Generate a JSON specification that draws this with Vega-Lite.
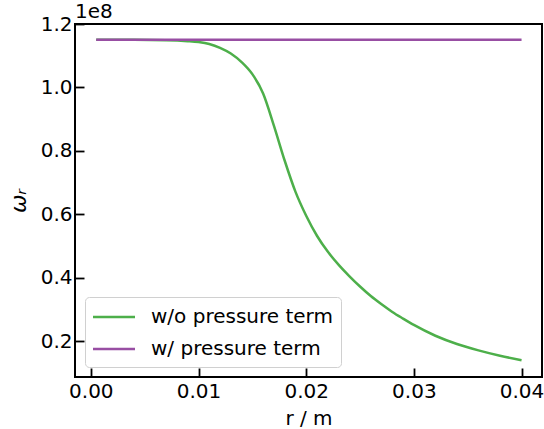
{
  "$schema": "https://vega.github.io/schema/vega-lite/v6.json",
  "width": 467,
  "height": 353,
  "autosize": {"type": "none"},
  "padding": {"left": 75, "top": 24, "right": 2, "bottom": 52},
  "background": "white",
  "config": {
    "font": "DejaVu Sans",
    "view": {"stroke": "black", "strokeWidth": 2},
    "axis": {
      "grid": false,
      "domain": false,
      "tickColor": "black",
      "tickWidth": 1.8,
      "tickSize": -9,
      "labelFontSize": 20,
      "labelColor": "black",
      "titleFontSize": 20,
      "titleColor": "black",
      "titleFontWeight": "normal",
      "labelFont": "DejaVu Sans",
      "titleFont": "DejaVu Sans"
    },
    "legend": {
      "orient": "bottom-left",
      "offset": 10,
      "fillColor": "white",
      "strokeColor": "#d0d0d0",
      "cornerRadius": 4,
      "padding": 8,
      "labelFontSize": 20,
      "labelColor": "black",
      "labelFont": "DejaVu Sans",
      "labelLimit": 0,
      "symbolType": "M-2,0L2,0",
      "symbolSize": 441,
      "symbolStrokeWidth": 2.5,
      "symbolOffset": 9,
      "rowPadding": 10,
      "labelOffset": 25
    }
  },
  "data": {
    "values": [
      {"series": "w/o pressure term", "r": 0.0005, "omega": 115000000},
      {"series": "w/o pressure term", "r": 0.004, "omega": 115000000},
      {"series": "w/o pressure term", "r": 0.007, "omega": 114900000},
      {"series": "w/o pressure term", "r": 0.009, "omega": 114600000},
      {"series": "w/o pressure term", "r": 0.010, "omega": 114300000},
      {"series": "w/o pressure term", "r": 0.011, "omega": 113700000},
      {"series": "w/o pressure term", "r": 0.012, "omega": 112500000},
      {"series": "w/o pressure term", "r": 0.013, "omega": 110700000},
      {"series": "w/o pressure term", "r": 0.014, "omega": 108000000},
      {"series": "w/o pressure term", "r": 0.015, "omega": 104200000},
      {"series": "w/o pressure term", "r": 0.016, "omega": 98100000},
      {"series": "w/o pressure term", "r": 0.017, "omega": 88000000},
      {"series": "w/o pressure term", "r": 0.018, "omega": 77000000},
      {"series": "w/o pressure term", "r": 0.019, "omega": 67200000},
      {"series": "w/o pressure term", "r": 0.020, "omega": 59600000},
      {"series": "w/o pressure term", "r": 0.021, "omega": 53300000},
      {"series": "w/o pressure term", "r": 0.022, "omega": 48300000},
      {"series": "w/o pressure term", "r": 0.023, "omega": 44200000},
      {"series": "w/o pressure term", "r": 0.024, "omega": 40600000},
      {"series": "w/o pressure term", "r": 0.025, "omega": 37300000},
      {"series": "w/o pressure term", "r": 0.026, "omega": 34300000},
      {"series": "w/o pressure term", "r": 0.027, "omega": 31700000},
      {"series": "w/o pressure term", "r": 0.028, "omega": 29300000},
      {"series": "w/o pressure term", "r": 0.029, "omega": 27200000},
      {"series": "w/o pressure term", "r": 0.030, "omega": 25200000},
      {"series": "w/o pressure term", "r": 0.032, "omega": 21800000},
      {"series": "w/o pressure term", "r": 0.034, "omega": 19200000},
      {"series": "w/o pressure term", "r": 0.036, "omega": 17200000},
      {"series": "w/o pressure term", "r": 0.038, "omega": 15500000},
      {"series": "w/o pressure term", "r": 0.040, "omega": 14100000},
      {"series": "w/ pressure term", "r": 0.0005, "omega": 115000000},
      {"series": "w/ pressure term", "r": 0.0400, "omega": 115000000}
    ]
  },
  "layer": [
    {
      "transform": [{"filter": "datum.series === 'w/o pressure term'"}],
      "mark": {"type": "line", "strokeWidth": 2.5, "interpolate": "monotone"},
      "encoding": {
        "x": {
          "field": "r", "type": "quantitative",
          "scale": {"domain": [-0.00147, 0.0419], "nice": false, "zero": false},
          "axis": {"values": [0, 0.01, 0.02, 0.03, 0.04], "format": ".2f", "title": "r / m", "labelPadding": 13, "titlePadding": 7}
        },
        "y": {
          "field": "omega", "type": "quantitative",
          "scale": {"domain": [8800000, 120000000], "nice": false, "zero": false},
          "axis": {"values": [20000000, 40000000, 60000000, 80000000, 100000000, 120000000], "labelExpr": "format(datum.value / 1e8, '.1f')", "title": "ωᵣ", "titleFontStyle": "italic", "titleFontSize": 22, "labelPadding": 12, "titlePadding": 10}
        },
        "color": {
          "field": "series", "type": "nominal",
          "scale": {"domain": ["w/o pressure term", "w/ pressure term"], "range": ["#4daf4a", "#984ea3"]},
          "legend": {"title": null}
        }
      }
    },
    {
      "transform": [{"filter": "datum.series === 'w/ pressure term'"}],
      "mark": {"type": "line", "strokeWidth": 2.5},
      "encoding": {
        "x": {"field": "r", "type": "quantitative"},
        "y": {"field": "omega", "type": "quantitative"},
        "color": {"field": "series", "type": "nominal"}
      }
    },
    {
      "data": {"values": [{"label": "1e8"}]},
      "mark": {"type": "text", "align": "left", "baseline": "alphabetic", "dy": -6, "fontSize": 20, "font": "DejaVu Sans", "color": "black"},
      "encoding": {
        "x": {"datum": -0.00147, "type": "quantitative"},
        "y": {"datum": 120000000, "type": "quantitative"},
        "text": {"field": "label"}
      }
    }
  ]
}
